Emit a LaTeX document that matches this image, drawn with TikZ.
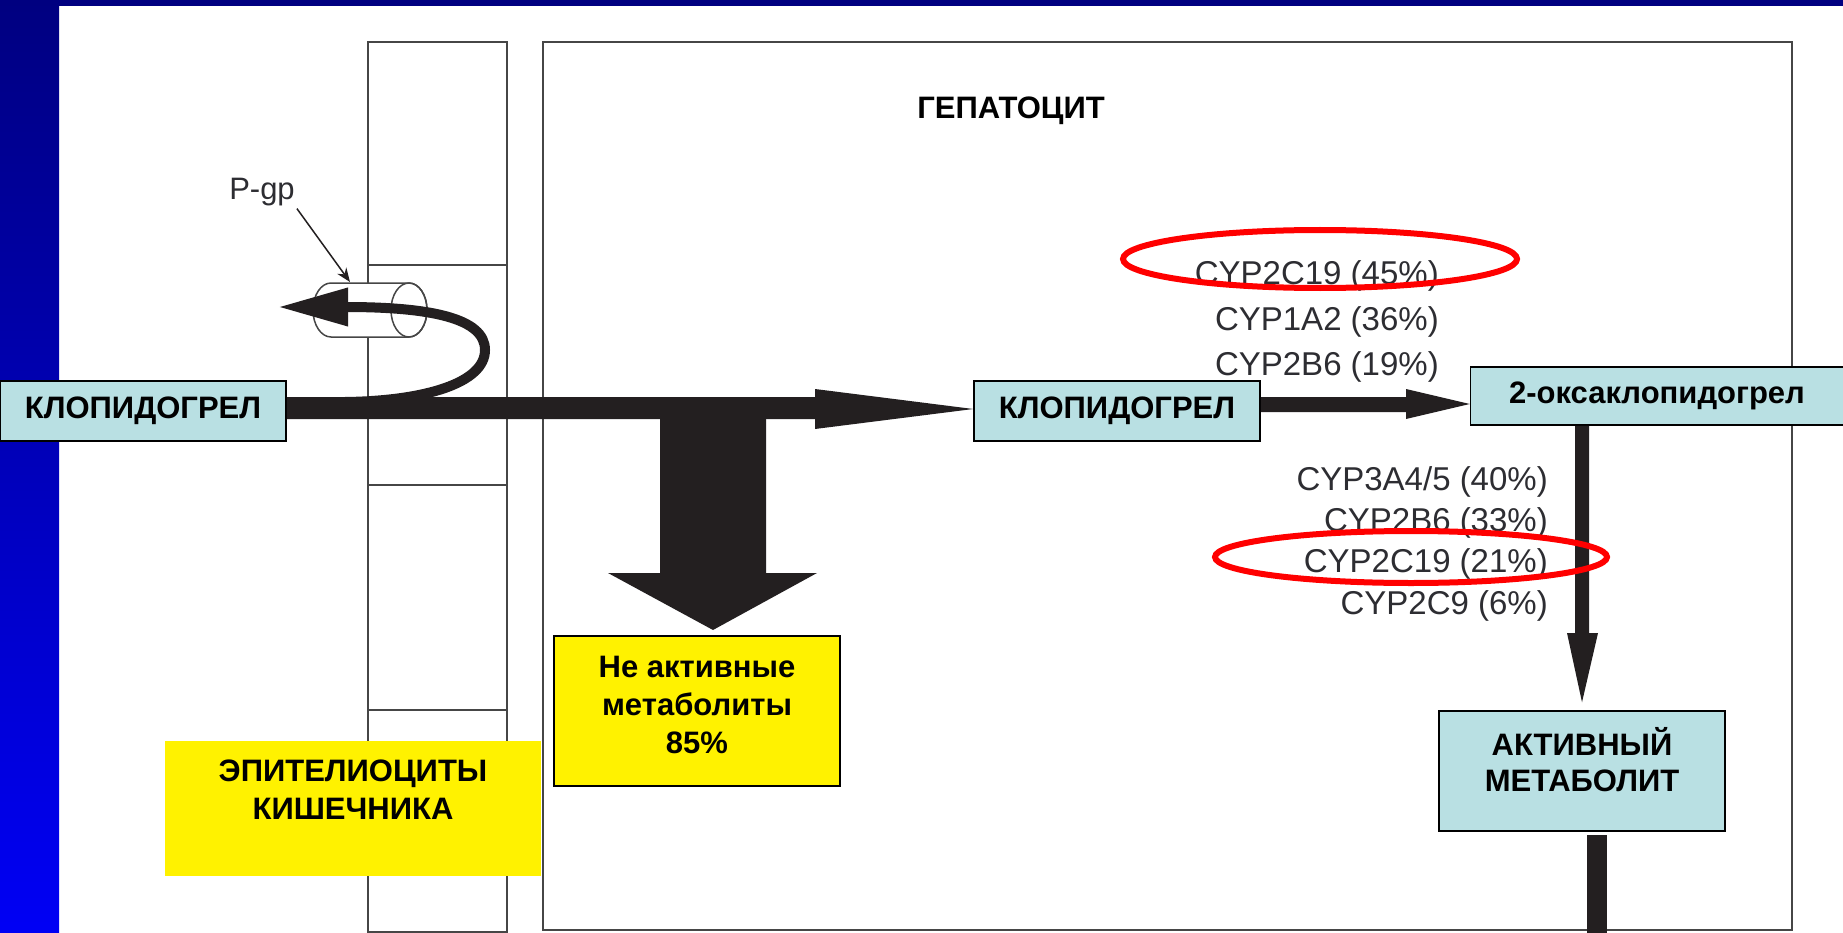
\documentclass[tikz,border=0pt]{standalone}
\usepackage{fontspec}
\setmainfont{Liberation Sans}
\usetikzlibrary{arrows.meta, positioning, calc}
\definecolor{navyband}{RGB}{0,0,128}
\definecolor{blueband}{RGB}{0,0,245}
\definecolor{drugblue}{RGB}{185,224,227}
\definecolor{inkblack}{RGB}{35,31,32}
\definecolor{cellgray}{RGB}{70,70,70}
\definecolor{cyptext}{RGB}{45,45,50}

\begin{document}
\begin{tikzpicture}[
    x=1pt, y=-1pt,
    drug/.style={rectangle, draw=black, line width=1.5pt, fill=drugblue, inner sep=0pt, minimum width=286pt, minimum height=60pt, align=center, font=\bfseries\fontsize{31}{36}\selectfont},
    note/.style={rectangle, fill=yellow, inner sep=0pt, align=center, font=\bfseries\fontsize{31}{38}\selectfont},
    enzyme/.style={anchor=base east, inner sep=0pt, text=cyptext, font=\fontsize{33}{40}\selectfont},
    membrane/.style={draw=cellgray, line width=2pt},
    bigarrow/.style={fill=inkblack},
    circled/.style={draw=red, line width=6pt},
]

\useasboundingbox (0,0) rectangle (1843,933);
\fill[white] (0,0) rectangle (1843,933);

% Slide frame
\shade[top color=navyband, bottom color=blueband] (0,0) rectangle (59,933);
\fill[navyband] (0,0) rectangle (1843,6);

% Cells
\draw[membrane] (368,42) rectangle (507,932);
\foreach \yy in {265,485,710}
    \draw[membrane] (368,\yy) -- (507,\yy);
\draw[membrane] (543,42) rectangle (1792,930);

% P-gp pump
\filldraw[draw=cellgray, fill=white, line width=1.5pt] (331,283) -- (409,283)
    arc[start angle=90, end angle=-90, x radius=18pt, y radius=27pt] -- (331,337)
    arc[start angle=270, end angle=90, x radius=18pt, y radius=27pt] -- cycle;
\draw[cellgray, line width=1.5pt] (409,310) ellipse[x radius=18pt, y radius=27pt];
\coordinate (cyltop) at (350,282);
\coordinate (loopstart) at (345,402);
\coordinate (effl) at (278,307);

% Nodes
\node[drug] (clop1) at (143,411) {КЛОПИДОГРЕЛ};
\node[drug] (clop2) at (1117,411) {КЛОПИДОГРЕЛ};
\node[drug, minimum width=373pt, minimum height=58pt] (oxa) at (1657,396) {2-оксаклопидогрел};
\node[drug, minimum height=120pt] (active) at (1582,771) {АКТИВНЫЙ\\МЕТАБОЛИТ\rule[-24pt]{0pt}{0pt}};
\node[note, draw=black, line width=1.5pt, minimum width=286pt, minimum height=150pt] (inact) at (697,711) {Не активные\\метаболиты\\85\%\rule[-12pt]{0pt}{0pt}};
\node[anchor=base, font=\bfseries\fontsize{31}{36}\selectfont] (hepat) at (1011,119) {ГЕПАТОЦИТ};
\node[anchor=base, inner sep=2pt, text=cyptext, font=\fontsize{31}{36}\selectfont] (pgp) at (262,200) {P-gp};
\coordinate (downtip) at (713,630);

% Arrows
\fill[bigarrow] (clop1.east |- 0,397) -- (815,397) -- (815,389) -- (clop2.west |- 0,409)
    -- (815,429) -- (815,419) -- (clop1.east |- 0,419) -- cycle;
\fill[bigarrow] (660,410) -- (766,410) -- (766,573) -- (817,573) -- (downtip)
    -- (608,573) -- (660,573) -- cycle;
\fill[bigarrow] (clop2.east |- 0,397) -- (1406,397) -- (1406,389) -- (oxa.west |- 0,404)
    -- (1406,419) -- (1406,412) -- (clop2.east |- 0,412) -- cycle;
\fill[bigarrow] (1575,0 |- oxa.south) -- (1589,0 |- oxa.south) -- (1589,633) -- (1598,633)
    -- ($(active.north)+(0,-8)$) -- (1567,633) -- (1575,633) -- cycle;
\fill[bigarrow] (1587,835) rectangle (1607,933);
\draw[inkblack, line width=10pt, -{Triangle[length=70pt, width=36pt]}] (loopstart)
    .. controls (425,401) and (485,383) .. (485,350)
    .. controls (485,318) and (430,307) .. (effl);
\draw[inkblack, line width=1.5pt, -{Stealth[length=14pt, width=11pt]}] (pgp.south east) -- (cyltop);

% Enzymes
\node[enzyme] (c45) at (1439,284) {CYP2C19 (45\%)};
\node[enzyme] (c36) at (1439,330) {CYP1A2 (36\%)};
\node[enzyme] (c19) at (1439,375) {CYP2B6 (19\%)};
\node[enzyme] (c40) at (1548,490) {CYP3A4/5 (40\%)};
\node[enzyme] (c33) at (1548,531) {CYP2B6 (33\%)};
\node[enzyme] (c21) at (1548,572) {CYP2C19 (21\%)};
\node[enzyme] (c6) at (1548,614) {CYP2C9 (6\%)};

% Intestine label
\node[note, minimum width=376pt, minimum height=135pt] (epi) at (353,808) {ЭПИТЕЛИОЦИТЫ\\КИШЕЧНИКА\rule[-36pt]{0pt}{0pt}};

% Highlights
\draw[circled] (1320,259) ellipse[x radius=197pt, y radius=29pt];
\draw[circled] (1411,557) ellipse[x radius=196pt, y radius=26pt];

\end{tikzpicture}
\end{document}
